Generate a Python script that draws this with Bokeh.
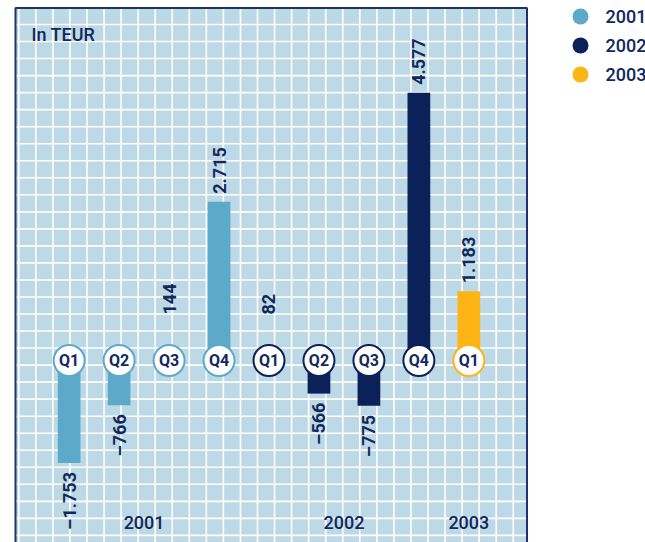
import numpy as np
from bokeh.plotting import figure
from bokeh.models import Range1d
from bokeh.core.properties import value
from bokeh.embed import file_html
from bokeh.resources import INLINE

# ---- data ----
years = ["2001", "2001", "2001", "2001", "2002", "2002", "2002", "2002", "2003"]
quarters = ["Q1", "Q2", "Q3", "Q4", "Q1", "Q2", "Q3", "Q4", "Q1"]
values = [-1753, -766, 144, 2715, 82, -566, -775, 4577, 1183]
series_years = ["2001", "2002", "2003"]
series_colors = ["#5DA9CA", "#0C2059", "#FDB415"]
unit_label = "In TEUR"

# ---- style ----
NAVY = "#13295C"
BORDER = "#1D3468"
BG = "#BDD9E6"
FONT_B = value("Roboto")
FONT_M = value("'Roboto Medium', Roboto")

W, H = 645, 542
UX = 49.96          # pixels per category step
UY = 17.1           # data units per pixel
ZERO_PY = 360       # pixel row of the zero line (from top of canvas)
BOX_LEFT_PX, BOX_RIGHT_PX, BOX_TOP_PX = 15, 526.5, 7.5

XF0 = -1.074 - BOX_LEFT_PX / UX
XF1 = XF0 + W / UX
YF1 = ZERO_PY * UY
YF0 = -(H - ZERO_PY) * UY

def fx(px):
    return XF0 + np.asarray(px, dtype=float) / UX

def fy(py):
    return (ZERO_PY - np.asarray(py, dtype=float)) * UY

def fmt(v):
    s = f"{abs(v):,}".replace(",", ".")
    return ("\u2013" if v < 0 else "") + s

color_of = dict(zip(series_years, series_colors))
idx = np.arange(len(values))
vals = np.array(values, dtype=float)
cols = [color_of[y] for y in years]

p = figure(width=W, height=H, x_range=Range1d(XF0, XF1), y_range=Range1d(YF0, YF1),
           output_backend="svg", toolbar_location=None,
           x_axis_location=None, y_axis_location=None, min_border=0,
           background_fill_color="white", border_fill_color="white", outline_line_color=None)
p.grid.visible = False

# chart box background
bx0, bx1 = fx(BOX_LEFT_PX), fx(BOX_RIGHT_PX)
by1, by0 = fy(BOX_TOP_PX), fy(H + 40)
p.quad(left=[bx0], right=[bx1], top=[by1], bottom=[by0], fill_color=BG, line_color=None)

# square grid (decoration)
vx = fx(18.3 + 17.05 * np.arange(0, 30))
hy = fy(24 + 17.03 * np.arange(0, 31))
p.segment(x0=vx, x1=vx, y0=[by0] * len(vx), y1=[by1] * len(vx), line_color="white", line_width=1.6)
p.segment(x0=[bx0] * len(hy), x1=[bx1] * len(hy), y0=hy, y1=hy, line_color="white", line_width=1.6)

# bars
p.vbar(x=idx, width=0.455, bottom=0, top=vals, fill_color=cols, line_color=None)

# quarter badges
p.scatter(x=idx, y=np.zeros(len(idx)), size=31, marker="circle",
          fill_color="white", line_color=cols, line_width=2)
p.text(x=idx, y=np.zeros(len(idx)), text=quarters, text_font=FONT_B,
       text_font_style="bold", text_font_size="16px", text_color=NAVY,
       text_align="center", text_baseline="middle")

# value labels
labels = [fmt(v) for v in values]
pos = vals >= 0
clear = 650.0
p.text(x=idx[pos], y=np.maximum(vals[pos], clear), text=[l for l, k in zip(labels, pos) if k],
       angle=np.pi / 2, text_font=FONT_B, text_font_style="bold", text_font_size="18px",
       text_color=NAVY, text_align="left", text_baseline="middle", y_offset=-8)
p.text(x=idx[~pos], y=vals[~pos], text=[l for l, k in zip(labels, pos) if not k],
       angle=np.pi / 2, text_font=FONT_B, text_font_style="bold", text_font_size="18px",
       text_color=NAVY, text_align="right", text_baseline="middle", y_offset=9)

# year labels
uy = list(dict.fromkeys(years))
cx = [idx[[i for i, y in enumerate(years) if y == u]].mean() for u in uy]
p.text(x=cx, y=[fy(522)] * len(cx), text=uy, text_font=FONT_M, text_font_size="18px",
       text_color=NAVY, text_align="center", text_baseline="middle")

# unit label
p.text(x=[fx(31)], y=[fy(34)], text=[unit_label], text_font=FONT_M,
       text_font_size="18px", text_color=NAVY, text_align="left", text_baseline="middle")

# box border (left, top, right; bottom runs off the canvas)
p.quad(left=[bx0], right=[bx1], top=[by1], bottom=[by0], fill_color=None,
       line_color=BORDER, line_width=2)

# ---- legend ----
ly = fy(16 + 29 * np.arange(len(series_years)))
p.scatter(x=[fx(580)] * len(series_years), y=ly, size=16, marker="circle",
          fill_color=series_colors, line_color=None)
p.text(x=[fx(605)] * len(series_years), y=ly, text=series_years, text_font=FONT_M,
       text_font_size="18px", text_color=NAVY, text_align="left", text_baseline="middle")

open("out.html", "w").write(file_html(p, INLINE))
